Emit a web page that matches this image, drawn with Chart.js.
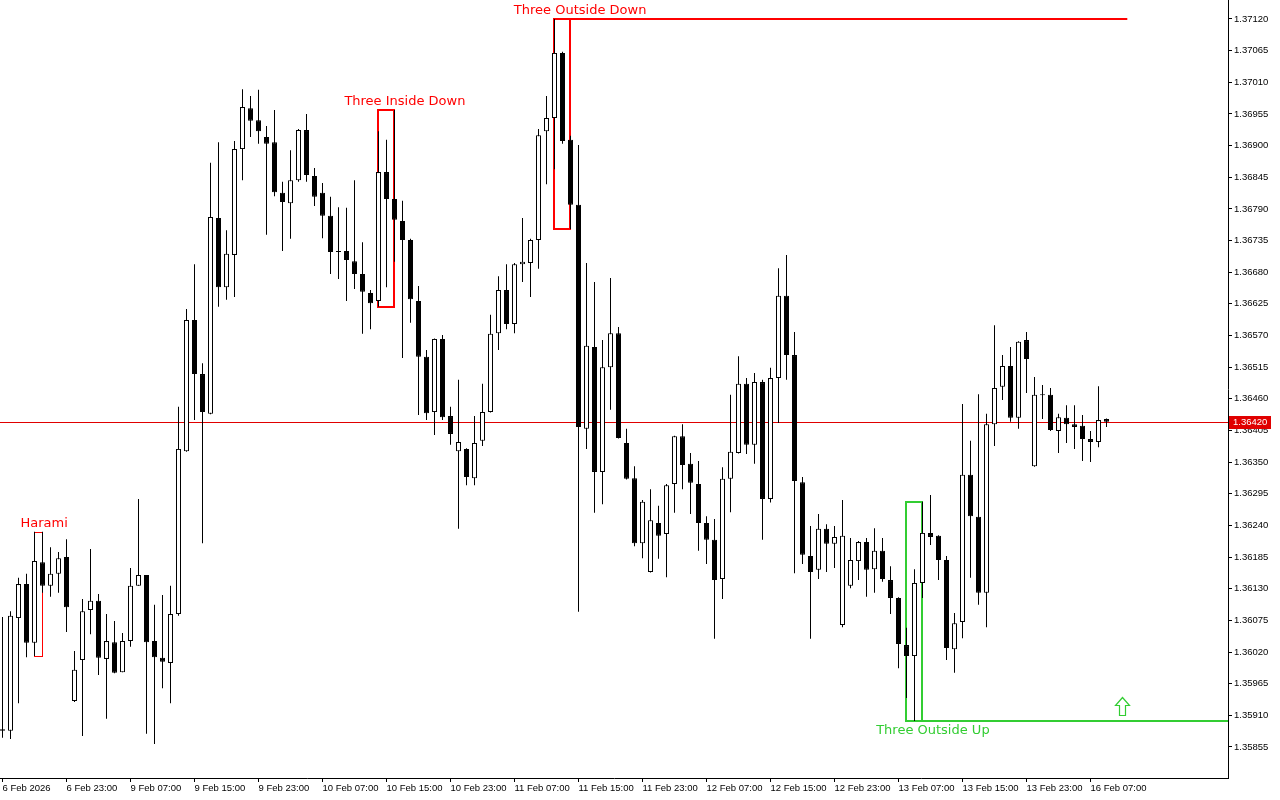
<!DOCTYPE html>
<html>
<head>
<meta charset="utf-8">
<title>H1 candles with patterns</title>
<script src="https://cdn.jsdelivr.net/npm/chart.js@4.4.1/dist/chart.umd.min.js"></script>
<style>
  html, body { margin: 0; padding: 0; background: #fff; }
  #wrap { width: 1280px; height: 800px; }
</style>
</head>
<body>
<div id="wrap"><canvas id="chart" width="1280" height="800"></canvas></div>
<script>
// hourly bars, 6 Feb 15:00 .. 16 Feb 09:00
const opens = [1.35886,1.35883,1.36079,1.36138,1.36036,1.36176,1.36135,1.36156,1.36185,1.35935,
  1.36006,1.36093,1.36109,1.36008,1.36037,1.35985,1.36039,1.36135,1.36154,1.36039,
  1.36010,1.36001,1.36086,1.36369,1.36597,1.36503,1.36434,1.36774,1.36654,1.36710,
  1.36894,1.36965,1.36944,1.36915,1.36906,1.36818,1.36800,1.36840,1.36927,1.36847,
  1.36818,1.36778,1.36716,1.36717,1.36699,1.36677,1.36644,1.36630,1.36854,1.36807,
  1.36769,1.36736,1.36630,1.36533,1.36437,1.36564,1.36430,1.36369,1.36373,1.36322,
  1.36387,1.36437,1.36574,1.36649,1.36590,1.36694,1.36696,1.36736,1.36925,1.36948,
  1.37061,1.36910,1.36797,1.36408,1.36550,1.36333,1.36515,1.36574,1.36383,1.36322,
  1.36209,1.36159,1.36244,1.36225,1.36312,1.36395,1.36347,1.36312,1.36244,1.36215,
  1.36147,1.36321,1.36366,1.36486,1.36380,1.36489,1.36286,1.36496,1.36639,1.36536,
  1.36315,1.36187,1.36163,1.36234,1.36208,1.36067,1.36135,1.36178,1.36211,1.36164,
  1.36196,1.36145,1.36114,1.36032,1.36013,1.36140,1.36227,1.36222,1.36180,1.36025,
  1.36072,1.36328,1.36255,1.36123,1.36416,1.36481,1.36517,1.36427,1.36562,1.36343,
  1.36467,1.36467,1.36404,1.36427,1.36416,1.36413,1.36390,1.36385,1.36425];
const highs = [1.36081,1.36091,1.36149,1.36156,1.36229,1.36229,1.36202,1.36194,1.36216,1.36022,
  1.36112,1.36199,1.36121,1.36086,1.36074,1.36053,1.36166,1.36286,1.36154,1.36102,
  1.36119,1.36135,1.36446,1.36616,1.36694,1.36522,1.36870,1.36906,1.36753,1.36908,
  1.36998,1.36986,1.36997,1.36934,1.36962,1.36837,1.36892,1.36929,1.36955,1.36861,
  1.36835,1.36811,1.36793,1.36792,1.36840,1.36732,1.36649,1.36925,1.36910,1.36962,
  1.36804,1.36738,1.36656,1.36545,1.36565,1.36571,1.36446,1.36493,1.36374,1.36430,
  1.36486,1.36606,1.36673,1.36694,1.36696,1.36774,1.36738,1.36929,1.36986,1.37120,
  1.37063,1.36917,1.36901,1.36696,1.36663,1.36562,1.36670,1.36585,1.36408,1.36343,
  1.36284,1.36303,1.36274,1.36312,1.36396,1.36416,1.36366,1.36352,1.36256,1.36251,
  1.36341,1.36467,1.36534,1.36496,1.36505,1.36493,1.36514,1.36687,1.36710,1.36576,
  1.36324,1.36239,1.36260,1.36242,1.36239,1.36284,1.36218,1.36213,1.36218,1.36235,
  1.36218,1.36169,1.36115,1.36062,1.36164,1.36281,1.36293,1.36223,1.36187,1.36088,
  1.36451,1.36387,1.36468,1.36434,1.36588,1.36536,1.36550,1.36560,1.36576,1.36498,
  1.36484,1.36479,1.36434,1.36449,1.36449,1.36432,1.36404,1.36482,1.36426];
const lows = [1.35871,1.35869,1.35931,1.36011,1.36013,1.36123,1.36116,1.36123,1.36055,1.35933,
  1.35874,1.36051,1.35980,1.35904,1.35983,1.35985,1.36029,1.36135,1.35878,1.35860,
  1.35957,1.35931,1.36083,1.36368,1.36423,1.36209,1.36433,1.36620,1.36632,1.36637,
  1.36840,1.36915,1.36903,1.36745,1.36812,1.36717,1.36738,1.36837,1.36837,1.36795,
  1.36739,1.36677,1.36668,1.36630,1.36651,1.36573,1.36581,1.36620,1.36654,1.36698,
  1.36531,1.36592,1.36432,1.36423,1.36397,1.36423,1.36380,1.36234,1.36310,1.36310,
  1.36378,1.36436,1.36545,1.36581,1.36574,1.36663,1.36637,1.36686,1.36833,1.36859,
  1.36903,1.36755,1.36090,1.36373,1.36262,1.36277,1.36441,1.36391,1.36320,1.36204,
  1.36183,1.36158,1.36182,1.36150,1.36262,1.36303,1.36260,1.36196,1.36173,1.36043,
  1.36112,1.36263,1.36365,1.36364,1.36347,1.36215,1.36280,1.36418,1.36493,1.36157,
  1.36173,1.36043,1.36147,1.36159,1.36166,1.36063,1.36131,1.36145,1.36116,1.36123,
  1.36142,1.36086,1.35992,1.35940,1.35900,1.36114,1.36206,1.36145,1.36006,1.35984,
  1.36044,1.36149,1.36102,1.36063,1.36378,1.36458,1.36420,1.36408,1.36470,1.36342,
  1.36425,1.36404,1.36366,1.36383,1.36373,1.36352,1.36350,1.36376,1.36411];
const closes = [1.35883,1.36083,1.36138,1.36036,1.36178,1.36135,1.36156,1.36183,1.36098,1.35989,
  1.36091,1.36109,1.36010,1.36039,1.35984,1.36039,1.36135,1.36154,1.36037,1.36011,
  1.36003,1.36086,1.36373,1.36597,1.36503,1.36437,1.36776,1.36654,1.36712,1.36894,
  1.36967,1.36943,1.36925,1.36903,1.36819,1.36802,1.36840,1.36927,1.36849,1.36811,
  1.36778,1.36715,1.36715,1.36701,1.36677,1.36646,1.36626,1.36854,1.36807,1.36771,
  1.36736,1.36633,1.36533,1.36435,1.36564,1.36428,1.36399,1.36385,1.36324,1.36383,
  1.36437,1.36573,1.36649,1.36590,1.36694,1.36698,1.36736,1.36918,1.36948,1.37061,
  1.36908,1.36797,1.36411,1.36552,1.36333,1.36515,1.36574,1.36392,1.36321,1.36209,
  1.36281,1.36249,1.36222,1.36310,1.36395,1.36345,1.36314,1.36244,1.36215,1.36145,
  1.36321,1.36368,1.36486,1.36380,1.36489,1.36286,1.36496,1.36639,1.36536,1.36317,
  1.36189,1.36159,1.36234,1.36208,1.36220,1.36222,1.36180,1.36211,1.36163,1.36196,
  1.36147,1.36114,1.36034,1.36013,1.36140,1.36227,1.36220,1.36180,1.36027,1.36070,
  1.36328,1.36256,1.36123,1.36416,1.36479,1.36517,1.36427,1.36559,1.36529,1.36467,
  1.36466,1.36406,1.36428,1.36416,1.36411,1.36390,1.36385,1.36423,1.36420];

// time axis labels, one every 8 bars
const tickBars = [0, 8, 16, 24, 32, 40, 48, 56, 64, 72, 80, 88, 96, 104, 112, 120, 128, 136];
const tickLabels = ['6 Feb 2026', '6 Feb 23:00', '9 Feb 07:00', '9 Feb 15:00', '9 Feb 23:00',
  '10 Feb 07:00', '10 Feb 15:00', '10 Feb 23:00', '11 Feb 07:00', '11 Feb 15:00', '11 Feb 23:00',
  '12 Feb 07:00', '12 Feb 15:00', '12 Feb 23:00', '13 Feb 07:00', '13 Feb 15:00', '13 Feb 23:00',
  '16 Feb 07:00'];
const priceTicks = [1.35855, 1.35910, 1.35965, 1.36020, 1.36075, 1.36130, 1.36185, 1.36240,
  1.36295, 1.36350, 1.36405, 1.36460, 1.36515, 1.36570, 1.36625, 1.36680, 1.36735, 1.36790,
  1.36845, 1.36900, 1.36955, 1.37010, 1.37065, 1.37120];

// candle patterns found on the chart
const patternNames = ['Harami', 'Three Inside Down', 'Three Outside Down', 'Three Outside Up'];
const patternFrom = [4, 47, 69, 113];
const patternTo = [5, 49, 71, 115];
const patternSide = ['down', 'down', 'down', 'up'];
const patternLabelAt = [5.2, 50.3, 72.2, 116.3];
const patternLineTo = [null, null, 140.6, 160];
const arrowBar = 140;
const arrowPrice = 1.35911;

const RED = '#ff0000';
const GREEN = '#32cd32';
const axisFont = { family: 'Liberation Sans', size: 9.5 };

const overlay = {
  id: 'overlay',
  beforeDatasetsDraw(chart) {
    const { ctx, chartArea, scales: { x, y } } = chart;
    ctx.save();
    // last price line
    const lastY = Math.round(y.getPixelForValue(closes[closes.length - 1])) + 0.5;
    ctx.strokeStyle = '#e00000';
    ctx.lineWidth = 1;
    ctx.beginPath();
    ctx.moveTo(chartArea.left, lastY);
    ctx.lineTo(chartArea.right, lastY);
    ctx.stroke();

    // pattern boxes
    patternNames.forEach((name, k) => {
      const s = patternFrom[k], e = patternTo[k];
      const hi = Math.max(...highs.slice(s, e + 1));
      const lo = Math.min(...lows.slice(s, e + 1));
      const lw = (e - s) > 1 ? 2 : 1;
      const off = lw === 1 ? 0.5 : 0;
      const x0 = Math.floor(x.getPixelForValue(s)) + off;
      const x1 = Math.floor(x.getPixelForValue(e)) + off;
      const y0 = Math.round(y.getPixelForValue(hi)) + off;
      const y1 = Math.round(y.getPixelForValue(lo)) + off;
      ctx.strokeStyle = patternSide[k] === 'up' ? GREEN : RED;
      ctx.lineWidth = lw;
      ctx.strokeRect(x0, y0, x1 - x0, y1 - y0);
      if (patternLineTo[k] !== null) {
        const ly = patternSide[k] === 'up' ? y1 : y0;
        const xe = Math.min(x.getPixelForValue(patternLineTo[k]), chartArea.right);
        ctx.beginPath();
        ctx.moveTo(x1, ly);
        ctx.lineTo(xe, ly);
        ctx.stroke();
      }
    });
    ctx.restore();
  },
  afterDatasetsDraw(chart) {
    const { ctx, chartArea, scales: { x, y } } = chart;
    ctx.save();
    ctx.font = '13px "DejaVu Sans"';
    ctx.textAlign = 'center';
    ctx.textBaseline = 'middle';
    patternNames.forEach((name, k) => {
      const s = patternFrom[k], e = patternTo[k];
      const tx = x.getPixelForValue(patternLabelAt[k]);
      if (patternSide[k] === 'up') {
        const lo = Math.min(...lows.slice(s, e + 1));
        ctx.fillStyle = GREEN;
        ctx.fillText(name, tx, y.getPixelForValue(lo) + 10);
      } else {
        const hi = Math.max(...highs.slice(s, e + 1));
        ctx.fillStyle = RED;
        ctx.fillText(name, tx, y.getPixelForValue(hi) - 8);
      }
    });

    // hollow up arrow
    const cx = Math.floor(x.getPixelForValue(arrowBar)) + 0.5;
    const yb = Math.round(y.getPixelForValue(arrowPrice)) + 0.5;
    ctx.beginPath();
    ctx.moveTo(cx, yb - 18);
    ctx.lineTo(cx + 7, yb - 10);
    ctx.lineTo(cx + 3, yb - 10);
    ctx.lineTo(cx + 3, yb);
    ctx.lineTo(cx - 3, yb);
    ctx.lineTo(cx - 3, yb - 10);
    ctx.lineTo(cx - 7, yb - 10);
    ctx.closePath();
    ctx.fillStyle = '#fff';
    ctx.fill();
    ctx.strokeStyle = GREEN;
    ctx.lineWidth = 1.2;
    ctx.stroke();

    // last price label on the axis
    const last = closes[closes.length - 1];
    const ly = Math.round(y.getPixelForValue(last));
    ctx.fillStyle = '#e00000';
    ctx.fillRect(chartArea.right + 1, ly - 6, 42, 13);
    ctx.fillStyle = '#fff';
    ctx.font = '9.5px "Liberation Sans"';
    ctx.textAlign = 'left';
    ctx.fillText(last.toFixed(5), chartArea.right + 5, ly + 0.5);
    ctx.restore();
  }
};

const bodyData = opens.map((o, i) => ({ x: i, y: [o, closes[i]] }));
const wickData = lows.map((l, i) => ({ x: i, y: [l, highs[i]] }));
const bodyFill = opens.map((o, i) => closes[i] >= o ? '#ffffff' : '#000000');

new Chart(document.getElementById('chart'), {
  type: 'bar',
  data: {
    datasets: [
      {
        label: 'body',
        data: bodyData,
        backgroundColor: bodyFill,
        borderColor: '#000',
        borderWidth: 1,
        borderSkipped: false,
        barThickness: 5,
        minBarLength: 1,
        grouped: false,
        inflateAmount: 0,
        order: 0
      },
      {
        label: 'wick',
        data: wickData,
        backgroundColor: '#000',
        borderWidth: 0,
        barThickness: 1,
        grouped: false,
        inflateAmount: 0,
        order: 1
      }
    ]
  },
  options: {
    responsive: false,
    animation: false,
    layout: { padding: 0 },
    plugins: { legend: { display: false }, tooltip: { enabled: false } },
    scales: {
      x: {
        type: 'linear',
        min: -0.3125,
        max: 153.1875,
        offset: false,
        afterBuildTicks: s => { s.ticks = tickBars.map(v => ({ value: v })); },
        afterFit: s => { s.height = 22; s.paddingLeft = 0; s.paddingRight = 0; },
        grid: { offset: false, drawOnChartArea: false, drawTicks: true, tickLength: 4, color: '#000' },
        border: { display: true, color: '#000' },
        ticks: {
          autoSkip: false,
          maxRotation: 0,
          align: 'start',
          padding: 1,
          color: '#000',
          font: axisFont,
          callback: (v, i) => tickLabels[i]
        }
      },
      y: {
        type: 'linear',
        position: 'right',
        min: 1.358011,
        max: 1.37153,
        afterBuildTicks: s => { s.ticks = priceTicks.map(v => ({ value: v })); },
        afterFit: s => { s.width = 52; s.paddingTop = 0; s.paddingBottom = 0; },
        grid: { offset: false, drawOnChartArea: false, drawTicks: true, tickLength: 4, color: '#000' },
        border: { display: true, color: '#000' },
        ticks: {
          autoSkip: false,
          padding: 2,
          color: '#000',
          font: axisFont,
          callback: v => v.toFixed(5)
        }
      }
    }
  },
  plugins: [overlay]
});
</script>
</body>
</html>
